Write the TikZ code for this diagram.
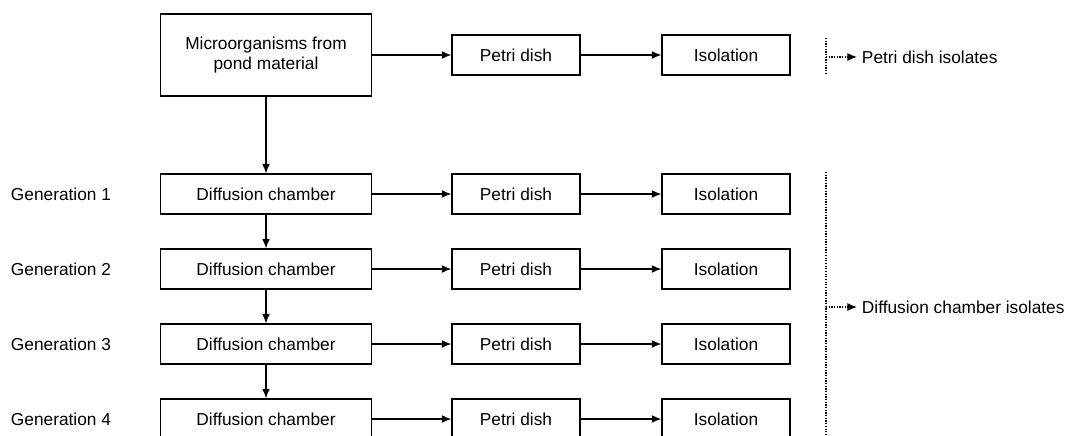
\documentclass[tikz,border=0pt]{standalone}
\usepackage{fontspec}
\setmainfont{Liberation Sans}
\usetikzlibrary{arrows.meta}
\tikzset{
  boite/.style={draw, line width=0.9pt, minimum height=1cm, inner sep=2pt},
  large/.style={boite, minimum width=5.28cm},
  petite/.style={boite, minimum width=3.2cm},
  fleche/.style={->, line width=0.9pt},
  pointille/.style={densely dotted, line width=0.9pt},
}
\begin{document}
\begin{tikzpicture}[x=0.025cm, y=-0.025cm, >={Latex[length=2.4mm,width=2mm]},
  font=\fontsize{12.3}{14.2}\selectfont]
  \clip (0,0) rectangle (1069,435);

  \node[large, minimum height=2.05cm, align=center] (src) at (266,55) {Microorganisms from\\pond material};
  \node[petite] (p0) at (516,55) {Petri dish};
  \node[petite] (i0) at (726,55) {Isolation};
  \draw[fleche] (src) -- (p0);
  \draw[fleche] (p0) -- (i0);

  \foreach \n/\y in {1/194, 2/269, 3/344, 4/419} {
    \node[anchor=west] (g\n) at (6,\y) {Generation \n};
    \node[large] (d\n) at (266,\y) {Diffusion chamber};
    \node[petite] (p\n) at (516,\y) {Petri dish};
    \node[petite] (i\n) at (726,\y) {Isolation};
    \draw[fleche] (d\n) -- (p\n);
    \draw[fleche] (p\n) -- (i\n);
  }
  \foreach \a/\b in {src/d1, d1/d2, d2/d3, d3/d4}
    \draw[fleche] (\a) -- (\b);

  % isolats
  \coordinate (h0) at (826,38);
  \coordinate (b0) at (826,75);
  \draw[pointille] (h0) -- (b0);
  \node[anchor=west] (l0) at (857,57) {Petri dish isolates};
  \draw[pointille, ->] (h0 |- l0) -- (l0);

  \coordinate (h1) at (826,172);
  \coordinate (b1) at (826,440);
  \draw[pointille] (h1) -- (b1);
  \node[anchor=west] (l1) at (857,307) {Diffusion chamber isolates};
  \draw[pointille, ->] (h1 |- l1) -- (l1);
\end{tikzpicture}
\end{document}
